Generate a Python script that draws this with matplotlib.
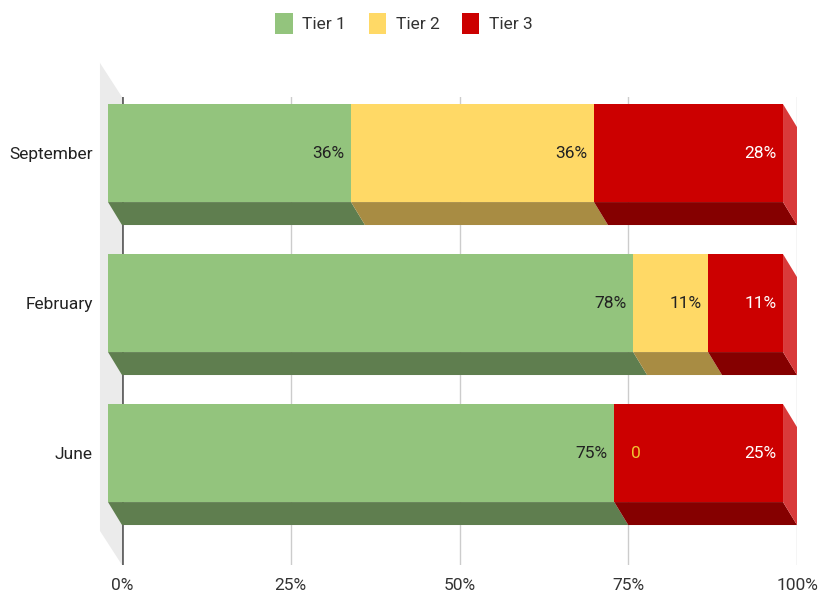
import matplotlib
matplotlib.use("Agg")
import matplotlib.pyplot as plt
from matplotlib.patches import Polygon, Patch

# dados (percentual por tier)
months = ["June", "February", "September"]
tier_names = ["Tier 1", "Tier 2", "Tier 3"]
tier1 = [75.0, 77.8, 36.0]
tier2 = [0.0, 11.1, 36.0]
tier3 = [25.0, 11.1, 28.0]
x_ticks = [0, 25, 50, 75, 100]

front_colors = ["#93c47d", "#ffd966", "#cc0000"]
bottom_colors = ["#5f7e4f", "#a88c43", "#850000"]
side_color = "#d93a3a"
label_colors = ["#222222", "#222222", "#ffffff"]
zero_label_color = "#f1c232"

# efeito 3D: face frontal deslocada para cima/esquerda
DX = -2.07
DY = 0.153
H = 0.653
WALL_DX = -3.26
WALL_DY = 0.227
FS = 12.5

plt.rcParams["font.family"] = ["Roboto", "DejaVu Sans"]

fig = plt.figure(figsize=(8.22, 6.01), dpi=100)
ax = fig.add_axes([122 / 822, 36 / 601, 675 / 822, 468 / 601])
ax.set_xlim(0, 100)
y0, y1 = -0.593, 2.527
ax.set_ylim(y0, y1)

# parede lateral esquerda
ax.add_patch(Polygon([(WALL_DX, y1 + WALL_DY), (0, y1), (0, y0), (WALL_DX, y0 + WALL_DY)],
                     closed=True, facecolor="#ebebeb", edgecolor="none", clip_on=False, zorder=0))

ax.xaxis.grid(True, color="#cccccc", linewidth=1)
ax.set_axisbelow(True)
ax.axvline(0, color="#666666", linewidth=2, zorder=1)

series = [tier1, tier2, tier3]
for i in range(len(months)):
    left = 0.0
    for k, vals in enumerate(series):
        v = vals[i]
        right = left + v
        yb = i + DY - H / 2
        if v > 0:
            ax.add_patch(Polygon([(left + DX, yb), (right + DX, yb), (right, i - H / 2), (left, i - H / 2)],
                                 closed=True, facecolor=bottom_colors[k], edgecolor="none",
                                 clip_on=False, zorder=2))
            ax.barh(i + DY, v, left=left + DX, height=H, color=front_colors[k],
                    clip_on=False, zorder=3)
        if k == len(series) - 1:
            ax.add_patch(Polygon([(right + DX, yb + H), (right + DX, yb), (right, i - H / 2), (right, i + H / 2)],
                                 closed=True, facecolor=side_color, edgecolor="none",
                                 clip_on=False, zorder=2))
        if v == 0:
            ax.text(right + DX + 2.5, i + DY, "0", ha="left", va="center",
                    fontsize=FS, color=zero_label_color, zorder=4)
        else:
            ax.text(right + DX - 1.0, i + DY, f"{v:.0f}%", ha="right", va="center",
                    fontsize=FS, color=label_colors[k], zorder=4)
        left = right

ax.set_xticks(x_ticks)
ax.set_xticklabels([f"{t}%" for t in x_ticks])
ax.set_yticks([i + DY for i in range(len(months))])
ax.set_yticklabels(months)
ax.tick_params(axis="x", length=0, pad=9, labelsize=FS, labelcolor="#333333")
ax.tick_params(axis="y", length=0, pad=21, labelsize=FS, labelcolor="#222222")
for s in ax.spines.values():
    s.set_visible(False)

handles = [Patch(facecolor=c, edgecolor="none", label=n) for c, n in zip(front_colors, tier_names)]
leg = fig.legend(handles=handles, loc="center", bbox_to_anchor=(0.4915, 0.961), ncol=3,
                 frameon=False, fontsize=FS, handlelength=1.0, handleheight=1.5,
                 handletextpad=0.55, columnspacing=1.3)
for t in leg.get_texts():
    t.set_color("#333333")

fig.savefig("out.png", dpi=100)
